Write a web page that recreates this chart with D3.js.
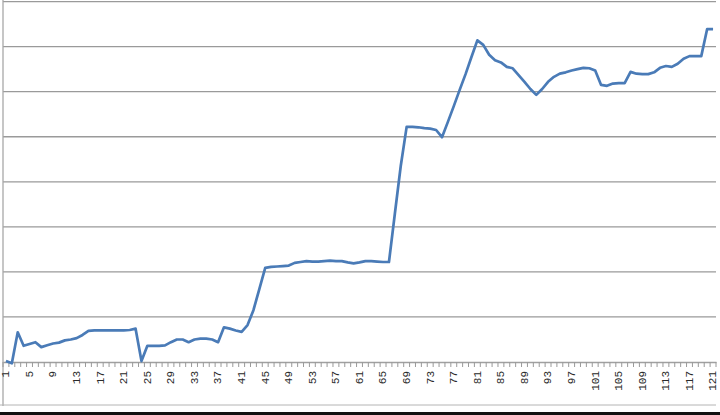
<!DOCTYPE html>
<html>
<head>
<meta charset="utf-8">
<script src="https://cdn.jsdelivr.net/npm/d3@7"></script>
<style>
html,body{margin:0;padding:0;background:#fff;}
svg{display:block;}
</style>
</head>
<body>
<svg id="chart" width="720" height="415"></svg>
<script>
// categories 1..121
const categories = d3.range(1, 122);
const tickLabels = [1,5,9,13,17,21,25,29,33,37,41,45,49,53,57,61,65,69,73,77,81,85,89,93,97,101,105,109,113,117,121];
const gridValues = [0,100,200,300,400,500,600,700,800];
const values = [
  2,-3,66,36,40,44,33,37,41,43,
  48,50,53,60,69,70,70,70,70,70,
  70,71,74,2,36,36,36,37,44,50,
  50,44,50,52,52,50,44,77,74,70,
  67,82,115,162,209,211,212,213,214,220,
  222,224,223,223,224,225,224,224,221,219,
  221,224,224,223,222,222,329,435,522,522,
  521,519,518,515,499,533,568,604,639,677,
  714,704,682,670,665,655,652,637,622,606,
  593,606,622,633,640,643,647,650,653,652,
  647,615,613,618,619,619,644,640,639,639,
  643,653,657,655,662,673,679,679,679,739,
  739
];

const svg = d3.select("#chart");
const W = 720, H = 415;
const pLeft = 3, pRight = 716, pTop = 1.6, pBottom = 362;

const x = d3.scaleBand().domain(categories).range([pLeft, pRight]).paddingInner(0).paddingOuter(0);
const y = d3.scaleLinear().domain([0, 800]).range([pBottom, pTop]);
const cx = d => x(d) + x.bandwidth() / 2;

// gridlines
svg.append("g").selectAll("line").data(gridValues.filter(v => v > 0)).join("line")
  .attr("x1", pLeft).attr("x2", 716)
  .attr("y1", d => y(d)).attr("y2", d => y(d))
  .attr("stroke", "#9a9a9a").attr("stroke-width", 1.3);

// left vertical line
svg.append("line").attr("x1", pLeft).attr("x2", pLeft).attr("y1", 0).attr("y2", 406)
  .attr("stroke", "#a8a8a8").attr("stroke-width", 1.3);

// bottom frame line
svg.append("line").attr("x1", 0).attr("x2", 716).attr("y1", 405).attr("y2", 405)
  .attr("stroke", "#b4b4b4").attr("stroke-width", 1);

// x axis
const xAxis = d3.axisBottom(x)
  .tickValues(tickLabels)
  .tickSize(0)
  .tickPadding(0);
const gx = svg.append("g").attr("transform", `translate(0,${pBottom})`).call(xAxis);
gx.select(".domain").attr("stroke", "#a0a0a0").attr("stroke-width", 1.3);
gx.selectAll(".tick text")
  .attr("transform", "rotate(-90)")
  .attr("x", -9).attr("y", 0).attr("dy", "0.3em")
  .style("text-anchor", "end")
  .style("font-family", "'Liberation Mono', 'DejaVu Sans Mono', monospace")
  .style("font-size", "11px")
  .attr("fill", "#2a2a2a");

// minor ticks at category boundaries
const bounds = categories.map(c => x(c)).concat([pRight]);
svg.append("g").selectAll("line").data(bounds).join("line")
  .attr("x1", d => d).attr("x2", d => d)
  .attr("y1", pBottom).attr("y2", pBottom + 5)
  .attr("stroke", "#9a9a9a").attr("stroke-width", 1);

// line
const line = d3.line().x((d, i) => cx(categories[i])).y(d => y(d));
svg.append("path").datum(values)
  .attr("d", line)
  .attr("fill", "none")
  .attr("stroke", "#4a7bb7")
  .attr("stroke-width", 2.7)
  .attr("stroke-linejoin", "round");

// dark scan edge at bottom
svg.append("rect").attr("x", 0).attr("y", 412).attr("width", W).attr("height", 3).attr("fill", "#111");
</script>
</body>
</html>
